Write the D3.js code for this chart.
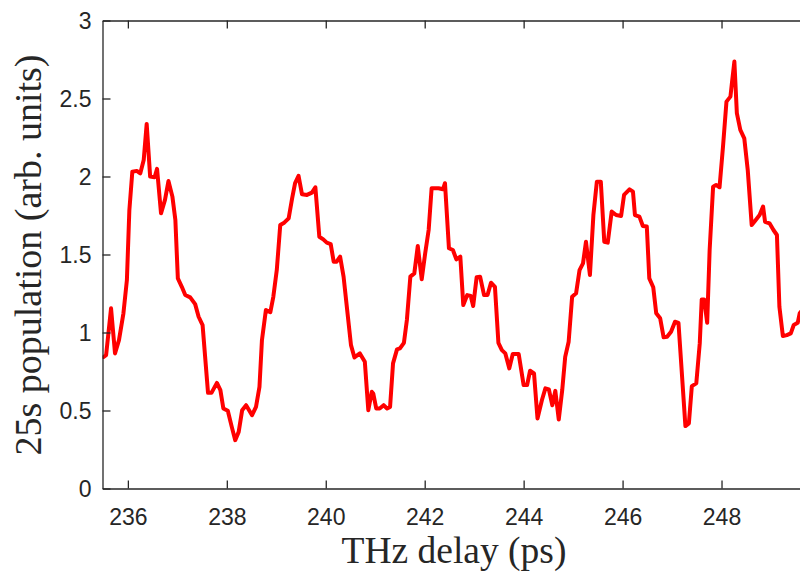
<!DOCTYPE html>
<html>
<head>
<meta charset="utf-8">
<script src="https://cdn.jsdelivr.net/npm/d3@7"></script>
<style>
  html, body { margin: 0; padding: 0; background: #fff; overflow: hidden; }
  svg { display: block; }
</style>
</head>
<body>
<svg id="chart" width="800" height="577"></svg>
<script>
// ---- data ----
const delay = [235.51,235.56,235.66,235.74,235.82,235.91,235.98,236.03,236.09,236.18,236.25,236.32,236.38,236.45,236.54,236.59,236.67,236.75,236.82,236.90,236.96,237.01,237.09,237.16,237.26,237.36,237.43,237.51,237.62,237.69,237.80,237.87,237.93,238.02,238.10,238.17,238.24,238.31,238.39,238.51,238.59,238.66,238.71,238.79,238.88,238.94,239.01,239.08,239.16,239.25,239.32,239.38,239.45,239.52,239.62,239.72,239.79,239.87,239.95,240.02,240.10,240.16,240.22,240.29,240.36,240.44,240.51,240.58,240.69,240.79,240.86,240.93,240.96,241.02,241.09,241.17,241.24,241.30,241.36,241.44,241.50,241.58,241.64,241.71,241.79,241.86,241.94,242.01,242.08,242.14,242.28,242.37,242.41,242.49,242.57,242.64,242.72,242.78,242.86,242.93,242.98,243.05,243.12,243.20,243.27,243.34,243.42,243.49,243.56,243.63,243.71,243.78,243.90,244.00,244.07,244.13,244.21,244.28,244.37,244.44,244.51,244.58,244.64,244.71,244.78,244.84,244.91,244.98,245.06,245.13,245.20,245.26,245.34,245.41,245.48,245.56,245.63,245.70,245.78,245.87,245.97,246.03,246.14,246.21,246.25,246.34,246.41,246.49,246.54,246.62,246.68,246.76,246.83,246.90,246.98,247.06,247.13,247.27,247.34,247.40,247.49,247.56,247.60,247.65,247.71,247.76,247.83,247.89,247.96,248.03,248.10,248.18,248.21,248.26,248.31,248.38,248.46,248.53,248.61,248.68,248.77,248.84,248.88,248.97,249.05,249.12,249.17,249.24,249.32,249.40,249.46,249.54,249.58,249.65];
const population = [0.843,0.855,1.155,0.866,0.951,1.123,1.336,1.785,2.031,2.036,2.02,2.106,2.337,2.0,1.995,2.049,1.764,1.85,1.971,1.871,1.721,1.347,1.293,1.24,1.225,1.182,1.101,1.048,0.613,0.613,0.677,0.631,0.513,0.498,0.395,0.31,0.363,0.502,0.534,0.47,0.523,0.652,0.951,1.144,1.13,1.229,1.40,1.689,1.704,1.732,1.86,1.957,2.004,1.886,1.882,1.897,1.931,1.614,1.597,1.576,1.567,1.454,1.454,1.486,1.358,1.123,0.919,0.84,0.866,0.812,0.502,0.62,0.609,0.513,0.513,0.534,0.513,0.523,0.802,0.892,0.898,0.934,1.08,1.358,1.379,1.554,1.341,1.508,1.657,1.925,1.925,1.918,1.957,1.54,1.529,1.469,1.486,1.176,1.24,1.234,1.17,1.354,1.358,1.24,1.24,1.319,1.293,0.934,0.887,0.866,0.77,0.862,0.862,0.663,0.663,0.755,0.738,0.449,0.567,0.642,0.635,0.534,0.626,0.443,0.631,0.844,0.941,1.229,1.251,1.40,1.443,1.582,1.368,1.753,1.967,1.967,1.582,1.576,1.775,1.753,1.747,1.882,1.918,1.903,1.753,1.743,1.683,1.679,1.347,1.29,1.123,1.091,0.969,0.973,1.005,1.069,1.062,0.40,0.417,0.656,0.674,0.93,1.212,1.212,1.062,1.529,1.935,1.946,1.931,2.192,2.48,2.512,2.598,2.737,2.406,2.299,2.245,2.042,1.689,1.717,1.753,1.807,1.71,1.70,1.657,1.625,1.165,0.977,0.983,0.994,1.048,1.062,1.123,1.15];
const xTicks = [236, 238, 240, 242, 244, 246, 248];
const yTicks = [0, 0.5, 1, 1.5, 2, 2.5, 3];
const xDomain = [235.487, 250.0];
const yDomain = [0, 3];
const xTitle = "THz delay (ps)";
const yTitle = "25s population (arb. units)";

// ---- layout ----
const plotLeft = 102.5, plotTop = 20.5, plotBottom = 488.5;
const pxPerUnit = 49.47;
const plotRight = plotLeft + (xDomain[1] - xDomain[0]) * pxPerUnit;
const axisColor = "#262626";

const svg = d3.select("#chart");
const x = d3.scaleLinear().domain(xDomain).range([plotLeft, plotRight]);
const y = d3.scaleLinear().domain(yDomain).range([plotBottom, plotTop]);

svg.append("defs").append("clipPath").attr("id", "plotclip")
  .append("rect").attr("x", plotLeft).attr("y", plotTop - 5)
  .attr("width", plotRight - plotLeft).attr("height", plotBottom - plotTop + 10);

// line
const line = d3.line().x((d, i) => x(delay[i])).y(d => y(d));
svg.append("path")
  .datum(population)
  .attr("clip-path", "url(#plotclip)")
  .attr("fill", "none")
  .attr("stroke", "#ff0000")
  .attr("stroke-width", 4)
  .attr("stroke-linejoin", "round")
  .attr("stroke-linecap", "round")
  .attr("d", line);

const fmtX = d3.format("d");
const fmtY = d => String(d);

// bottom axis (ticks inward)
const gx = svg.append("g").attr("transform", `translate(0,${plotBottom})`)
  .call(d3.axisBottom(x).tickValues(xTicks).tickFormat(fmtX).tickSizeInner(-8).tickSizeOuter(0));
// top axis (ticks inward, no labels)
const gxt = svg.append("g").attr("transform", `translate(0,${plotTop})`)
  .call(d3.axisTop(x).tickValues(xTicks).tickFormat("").tickSizeInner(-8).tickSizeOuter(0));
// left axis
const gy = svg.append("g").attr("transform", `translate(${plotLeft},0)`)
  .call(d3.axisLeft(y).tickValues(yTicks).tickFormat(fmtY).tickSizeInner(-8).tickSizeOuter(0));

[gx, gxt, gy].forEach(g => {
  g.select(".domain").attr("stroke", axisColor).attr("stroke-width", 1.3);
  g.selectAll(".tick line").attr("stroke", axisColor).attr("stroke-width", 1.3);
  g.selectAll("text")
    .attr("fill", axisColor)
    .style("font-family", "'Liberation Sans', Arial, Helvetica, sans-serif")
    .style("font-size", "23px");
});
gx.selectAll(".tick text").attr("y", 36.5).attr("dy", null);
gy.selectAll(".tick text").attr("x", -11).attr("dy", "0.35em");

// axis titles
svg.append("text")
  .attr("x", 454).attr("y", 563)
  .attr("text-anchor", "middle")
  .attr("fill", axisColor)
  .style("font-family", "'Liberation Serif', 'Times New Roman', Times, serif")
  .style("font-size", "37.5px")
  .text(xTitle);

svg.append("text")
  .attr("transform", "translate(41,255) rotate(-90)")
  .attr("text-anchor", "middle")
  .attr("fill", axisColor)
  .style("font-family", "'Liberation Serif', 'Times New Roman', Times, serif")
  .style("font-size", "38px")
  .text(yTitle);
</script>
</body>
</html>
